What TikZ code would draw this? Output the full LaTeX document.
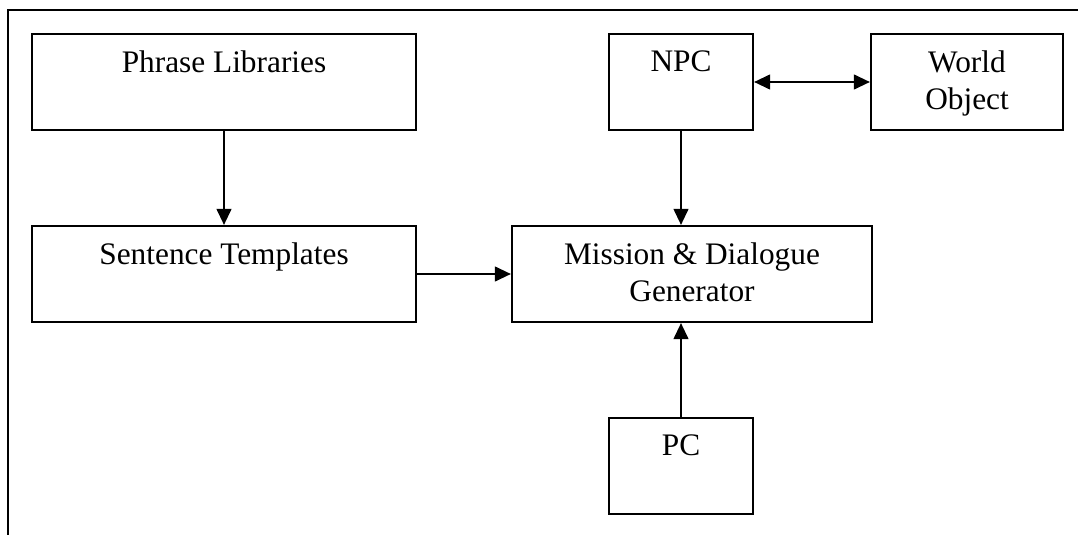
\documentclass[tikz,border=0pt]{standalone}
\usepackage{fontspec}
\setmainfont{Liberation Serif}
\usetikzlibrary{arrows.meta,positioning}

\begin{document}
\begin{tikzpicture}[x=0.75pt,y=-0.75pt,line width=1.6pt,
    box/.style={draw,inner sep=0pt,minimum height=72pt},
    boxtext/.style={anchor=north,inner sep=0pt,yshift=-12.5pt,align=center,
      font=\fontsize{23.5}{27.75}\selectfont},
    arr/.style={-{Triangle[length=12pt,width=11pt]}},
    dblarr/.style={{Triangle[length=12pt,width=11pt]}-{Triangle[length=12pt,width=11pt]}}]
      \useasboundingbox (0,0) rectangle (1078,535);
      \draw (8,535) -- (8,10) -- (1078,10);

      \node[box,minimum width=288pt] (phrase) at (224,82) {};
      \node[boxtext] (phraset) at (phrase.north) {Phrase Libraries};
      \node[box,minimum width=288pt] (templ) at (224,274) {};
      \node[boxtext] (templt) at (templ.north) {Sentence Templates};
      \node[box,minimum width=108pt] (npc) at (681,82) {};
      \node[boxtext] (npct) at (npc.north) {NPC};
      \node[box,minimum width=144pt] (world) at (967,82) {};
      \node[boxtext] (worldt) at (world.north) {World\\Object};
      \node[box,minimum width=270pt] (gen) at (692,274) {};
      \node[boxtext] (gent) at (gen.north) {Mission \& Dialogue\\Generator};
      \node[box,minimum width=108pt] (pc) at (681,466) {};
      \node[boxtext] (pct) at (pc.north) {PC};

      \draw[arr] (phrase) -- (templ);
      \draw[arr] (templ) -- (gen);
      \draw[arr] (npc.south) -- (npc.south |- gen.north);
      \draw[arr] (pc.north) -- (pc.north |- gen.south);
      \draw[dblarr] (npc) -- (world);
    \end{tikzpicture}
\end{document}
